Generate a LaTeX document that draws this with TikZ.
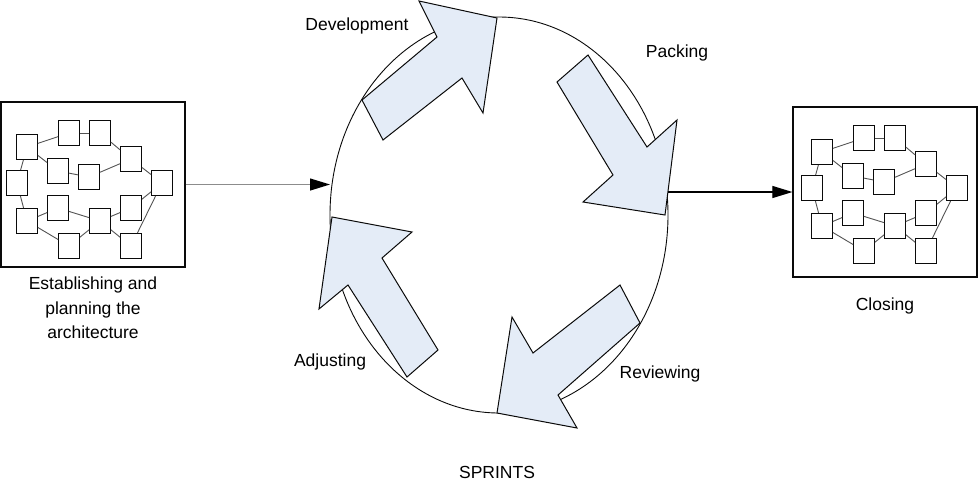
\documentclass[tikz,border=0pt]{standalone}
\usepackage{fontspec}
\setmainfont{Liberation Sans}
\usepackage{tikz}
\usetikzlibrary{shapes.geometric, arrows.meta, positioning}
\definecolor{mydark}{RGB}{10,10,10}
\definecolor{mygray}{RGB}{140,140,140}
\definecolor{hdrblue}{RGB}{228,236,247}
\tikzset{
  netbox/.style={rectangle, draw=mydark, fill=white, line width=1.2pt, inner sep=0pt},
  task/.style={rectangle, draw=mydark, fill=white, minimum width=20.7pt,
    minimum height=25pt, inner sep=0pt, line width=1.1pt},
  link/.style={color=mydark!70, line width=0.9pt},
  sprintring/.style={ellipse, draw=mydark, line width=0.9pt, minimum width=338pt,
    minimum height=396pt, inner sep=0pt, outer sep=0pt},
  bigarrow/.style={draw=mydark, fill=hdrblue, line width=1pt, line join=miter},
  arrow/.style={-{Triangle[length=20pt, width=12pt, color=black]}, line width=1.1pt},
  lbl/.style={font=\fontsize{17.5}{24.5}\selectfont, color=black, align=center, inner sep=0pt}
}
% the little task network drawn in both boxes
\newcommand{\sprintnet}{%
  \foreach \id/\px/\py in {1/27/147, 2/69/133, 3/100/133, 4/58/171, 5/89/177,
      6/131/159, 7/17/183, 8/162/183, 9/27/221, 10/58/208, 11/100/221,
      12/131/208, 13/69/246, 14/131/246}
    \node[task] (t\id) at (\px,\py) {};
  \foreach \a/\b in {1/2, 2/3, 3/6, 1/4, 4/5, 5/6, 6/8, 1/7, 7/9, 9/10, 9/13,
      10/11, 13/11, 11/12, 11/14, 12/8, 14/8}
    \draw[link] (t\a) -- (t\b);
}

\begin{document}
\begin{tikzpicture}[x=1pt, y=-1pt]
  \useasboundingbox (0,0) rectangle (980,483);

  % Boxes
  \node[netbox, minimum width=184pt, minimum height=165pt] (arch) at (93,184.5) {};
  \node[netbox, minimum width=184pt, minimum height=170pt] (done) at (885,192) {};
  \begin{scope}[name prefix=L-]
    \sprintnet
  \end{scope}
  \begin{scope}[shift={(795,5)}, name prefix=R-]
    \sprintnet
  \end{scope}

  % Sprint cycle
  \node[sprintring] (sprint) at (499,215) {};
  \draw[bigarrow] (362,100) -- (437,37) -- (419,1) -- (497,18) -- (483,113) -- (462,78) -- (383,140) -- cycle;
  \draw[bigarrow] (588,55) -- (647,147) -- (677,120) -- (665,215) -- (583,202) -- (613,175) -- (557,82) -- cycle;
  \draw[bigarrow] (620,285) -- (533,353) -- (512,317) -- (497,413) -- (577,428) -- (558,395) -- (640,323) -- cycle;
  \draw[bigarrow] (407,377) -- (348,285) -- (319,309) -- (332,217) -- (412,232) -- (382,258) -- (438,350) -- cycle;

  % Connectors
  \draw[arrow, color=mygray] (arch.east) -- (arch.east -| sprint.west);
  \draw[arrow] (sprint.east |- done.west) -- (done.west);

  % Labels
  \node[lbl, anchor=base] (devlbl) at (357,30) {Development};
  \node[lbl, anchor=base] (packlbl) at (677,57.5) {Packing};
  \node[lbl, anchor=base] (revlbl) at (660,378) {Reviewing};
  \node[lbl, anchor=base] (adjlbl) at (330,366) {Adjusting};
  \node[lbl, anchor=base] (sprlbl) at (497,478) {SPRINTS};
  \node[lbl, anchor=base] (closelbl) at (885,310.5) {Closing};
  \node[lbl, anchor=north] (archlbl) at (93,277) {Establishing and\\planning the\\architecture};
\end{tikzpicture}
\end{document}
